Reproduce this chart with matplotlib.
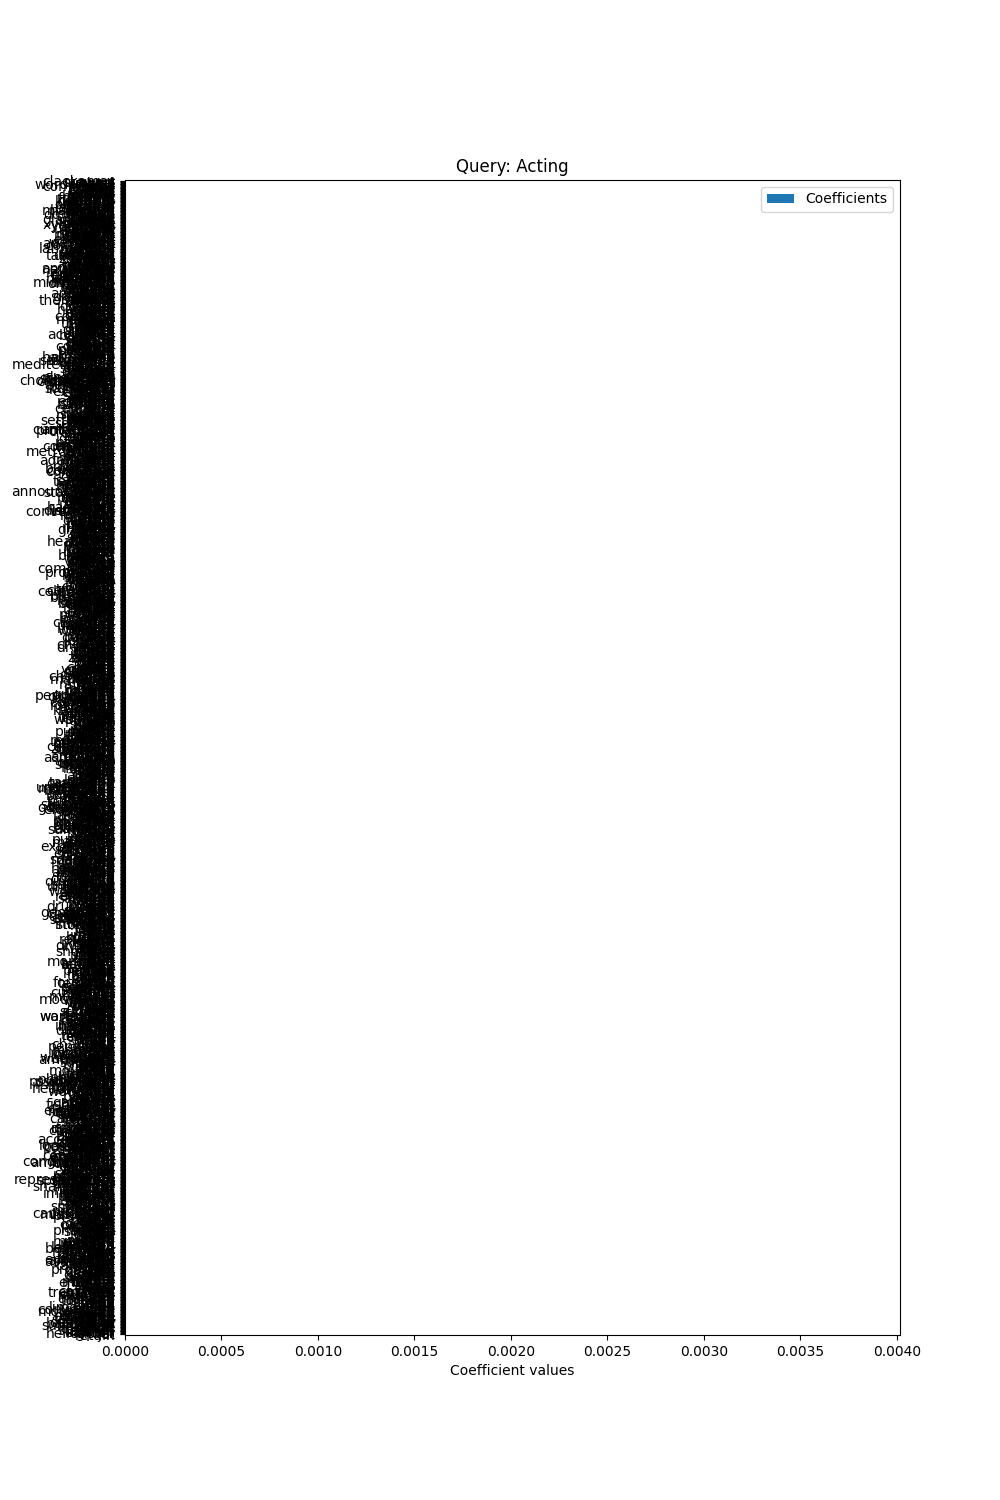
import numpy as np
import matplotlib
matplotlib.use("Agg")
import matplotlib.pyplot as plt

# feature words, listed from the top of the chart to the bottom
words = """
clackamas stewart wolves rental wordsworth fields communal curtis comet kiai brooks outline sunset keeper radial coats canal
wizard garnet hatchet bonnet dancer fountain gallery heritage journal kingdom laundry magnet nursery observer painter quarter railing
sporting powerful hart hardware misquoted hamlet boards lighten downtown chalk stride pastry castle merger marsh glamorous fennel
sandbox teapot uniform vintage warrior xylophone yearbook zipper anvil bicycle cabinet dentist elevator firefly goblet hydrant icicle
program harmony beacon powder lantern orchard vessel embassy draft ripple appeal westward apartment pillow cottage conductor verse
javelin kayak lampshade mailbox napkin octopus paddle quartz raincoat scooter tablecloth umbrella vacuum waffle yogurt zucchini acorn
ribbon ashore cluster hunter yeast vendor corridor archive tannery charcoal cobalt apprentice newsletter shelter inland cradle tavern
blender cupboard doorbell envelope flashlight garland headband inkwell jukebox keyboard ladle microphone necklace ornament padlock quilt radiator
diary harbor fabric anthem weights wrestle apparel ember jigsaw approach wagon willow greenery ledger cement candle quarry
scissors thermostat ukulele vase wallet apron broom crayon dustpan eraser funnel glove hammer iron jacket kite
granite walnut cousin riddle dolphin saddle compass orbit fossil meadow pigeon rubber velvet basin thunder lumber ferry
lamp mitten needle oven pencil quiver2 ruler sponge towel utensil violin whisk accordion bagpipe clarinet drum flute
coastal cellar nettle thistle insight bonfire puppet mosaic cabin steeple compost hedge parcel satchel paradox pageant shingle
guitar harp organ trumpet tuba banjo cello harmonica mandolin oboe piccolo saxophone trombone viola bassoon cymbal gong
mediterranean estuary lagoon gravel gremlin sparrow latch cinder lobster calcium vault lattice trellis courier cobble blanket
actress playwright screenplay filmmaker choreography composer conductor2 dramatist lyricist narrator performer player presenter singer soloist storyteller tenor
kettle excavate biscuit ecology hostel bishop cameo sherbet bugle poster aroma ladder pebble muffin tractor emerald mining
soprano baritone alto bass diva starlet celebrity icon legend idol star hero villain heroine sidekick mentor2 rival
expert invoice walrus trolley prism settlement tundra beaker billow southern hazard arsenal cargo compile lodge linen cumberland
antagonist protagonist character role part cameo2 lead extra stand stunt double dubbing subtitle caption credit trailer teaser
beacon2 falcon crater highland mansion commerce monsoon nutmeg adult tripod coffin metropolitan imprint axle barley sundial succeed
sequel prequel remake reboot spinoff franchise adaptation novel novella poem sonnet ballad epic saga chronicle memoir biography
pyramid lotus corrective compass2 ginger oyster cinema gospel oblong crimson mural basket aviator ingot sapphire reptile template
essay article column editorial headline feature report bulletin dispatch memo letter notice announcement statement speech address sermon
barrel pelican internal plumber consent hermit rosary copper domino nozzle feather scholar cobra native decree hammock shutter
lecture2 debate discussion interview conversation chat gossip rumor whisper murmur shout scream cry laugh giggle chuckle sigh
coral rustic helmet banner pepper casket piano ribbon2 tunnel sketch grumble cedar quiver lever stitch wedge slipper
groan moan yawn sneeze cough hiccup snore breath pulse heartbeat rhythm tempo melody tune chord note pitch
harvest canyon tiger plaster vapor beetle marrow lemon kitten blossom pirate scarlet ditch turbine valve mantle osprey
volume echo silence noise clamor racket din uproar tumult commotion chaos order system method process procedure routine
signal rocket almond hollow summit ferret bakery dragon cactus laurel ashen cider mentor pistol rafter cobweb clover
habit custom tradition ritual ceremony celebration party banquet feast picnic barbecue dinner lunch breakfast brunch supper snack
lantern2 spindle harness cannon bramble hornet dagger locket pulley gutter sprout thimble quill chisel anchor buoy wren
dessert pudding cake pie tart cookie brownie pastry2 bread roll bagel croissant muffin2 scone waffle2 pancake crepe
vortex juniper mallet tundra2 fable wigwam geyser hinge kiln lynx mead nectar oasis parsnip quarry2 relic sable
omelet salad soup stew curry broth chowder sauce gravy dressing relish pickle jam jelly honey syrup butter
tallow umber vial wharf yarn zephyr abbey bellow cairn dune easel flint gable heron islet jetty knoll ledge
cheese cream milk yogurt2 custard sorbet gelato sundae fudge caramel toffee candy chocolate truffle praline nougat marzipan
moat nook ochre plinth quay rampart sluice turret urn vane weir yoke atrium bastion cupola dormer eave
licorice gumdrop lollipop peppermint cinnamon clove nutmeg2 vanilla saffron paprika cumin coriander basil oregano thyme rosemary sage
finial gazebo hamlet2 inlay joist keystone lintel mullion newel oriel parapet quoin rotunda soffit transom vestry wainscot
parsley dill mint chive garlic onion shallot leek celery carrot turnip radish beet potato yam pumpkin squash
acting actor stage theatre drama scene script casting director studio rehearsal audience premiere comedy tragedy musical ballet
cucumber tomato eggplant zucchini2 broccoli cabbage lettuce spinach kale chard arugula cress endive fennel2 artichoke asparagus okra
opera chorus encore curtain costume makeup lighting spotlight podium critic review award festival gala ticket usher
apple pear peach plum cherry apricot grape raisin fig date olive lemon2 lime orange tangerine grapefruit melon
matinee season repertory ensemble understudy monologue dialogue prop backstage screen film cinema2 movie television broadcast radio
banana mango papaya pineapple coconut kiwi guava lychee passion berry strawberry raspberry blueberry cranberry gooseberry currant elderberry
network channel episode series sitcom pilot producer writer editor camera lens shutter2 frame reel projector sound
hazelnut chestnut pecan cashew pistachio peanut walnut2 almond2 sesame sunflower poppy flax hemp oat wheat rye rice
voice accent improv mime clown puppetry circus acrobat juggler magician illusion trick gesture posture expression emotion
corn millet sorghum quinoa lentil bean pea chickpea soybean tofu tempeh seitan noodle pasta spaghetti macaroni lasagna
career agent contract salary union guild talent audition callback headshot resume portfolio training school academy
ravioli gnocchi risotto paella sushi tempura ramen dumpling burrito taco nacho quesadilla tortilla pizza calzone sandwich burger
college university student teacher lesson course class workshop seminar lecture exam degree diploma thesis research
hotdog sausage bacon ham steak roast chop cutlet fillet brisket rib wing drumstick breast thigh liver kidney
science history geography biology chemistry physics algebra geometry calculus statistics economy finance market trade export
heart2 lung stomach intestine bone skull spine rib2 pelvis femur tibia knee ankle heel toe foot leg
import tariff budget deficit surplus revenue profit loss asset equity bond stock share dividend interest loan
hip waist belly chest shoulder arm elbow wrist hand finger thumb nail palm neck throat chin jaw
mortgage credit debit account balance ledger2 audit tax levy duty fee fine penalty reward bonus grant
cheek lip mouth tongue tooth gum nose nostril eye eyelid lash brow forehead temple2 ear lobe scalp
subsidy pension welfare charity donor sponsor patron client customer buyer seller dealer broker merchant trader
hair beard moustache whisker freckle mole wrinkle dimple scar wound bruise blister rash fever chill ache cramp
supplier factory plant mill foundry forge workshop2 warehouse depot dock pier port harbour marina canal2 river
sprain fracture infection virus bacteria germ fungus allergy asthma diabetes cancer tumor stroke seizure coma therapy remedy
stream creek brook pond lake ocean sea bay gulf strait channel2 cape peninsula island atoll reef shoal
medicine pill tablet capsule syrup2 ointment bandage splint cast crutch wheelchair stretcher ambulance hospital clinic ward surgeon
delta valley ridge plateau mesa butte cliff bluff crag peak mountain hill mound slope terrace prairie steppe
nurse doctor physician dentist2 pharmacist therapist psychologist psychiatrist counselor coach trainer tutor instructor professor dean principal headmaster
savanna jungle forest woodland grove thicket copse glade field pasture farm ranch estate manor villa palace
janitor gardener farmer fisherman hunter2 miner logger builder carpenter mason welder electrician mechanic engineer architect designer planner
temple shrine chapel church cathedral mosque pagoda tower spire dome arch column pillar beam rafter2 girder
surveyor inspector detective officer constable sheriff marshal judge jury lawyer attorney solicitor barrister clerk notary banker accountant
railway station platform signal2 carriage engine locomotive freight passenger commuter traveller tourist pilgrim nomad settler colonist
auditor actuary analyst consultant manager executive chairman president governor mayor senator congressman minister ambassador diplomat consul envoy
pioneer explorer voyager sailor captain admiral general colonel major sergeant private soldier veteran militia regiment battalion
delegate representative spokesman secretary treasurer trustee director2 founder owner partner investor shareholder creditor debtor tenant landlord neighbor
citizen resident immigrant refugee exile fugitive prisoner convict inmate hostage victim witness suspect culprit thief burglar robber
bandit pirate2 smuggler forger swindler spy traitor rebel rioter protester activist campaigner volunteer missionary preacher priest monk
nun abbot friar rabbi imam pastor vicar deacon cardinal pope prophet saint angel demon ghost spirit phantom
specter wraith ghoul goblin troll ogre giant dwarf elf fairy pixie sprite nymph mermaid unicorn griffin phoenix
serpent basilisk hydra kraken leviathan behemoth chimera sphinx centaur minotaur cyclops titan deity goddess oracle seer sorcerer
witch warlock wizard2 enchanter alchemist astrologer fortune tarot crystal amulet talisman charm spell curse hex omen prophecy
destiny fate luck chance odds gamble wager bet lottery raffle jackpot prize trophy medal ribbon3 badge emblem
crest shield sword spear lance axe bow arrow dart sling catapult trebuchet musket rifle shotgun revolver pistol2
bullet shell grenade bomb missile torpedo mine tank jeep truck van bus coach2 taxi limousine sedan coupe
convertible wagon2 motorcycle scooter2 moped tram subway monorail cable gondola ferry2 yacht sloop schooner galleon frigate2 destroyer
cruiser battleship carrier submarine canoe raft barge tugboat trawler steamer liner airship balloon glider helicopter jet retain
""".split()

# coefficient of every word, all read as zero in the chart
coefs = np.zeros(len(words))

fig, ax = plt.subplots(figsize=(10, 15), dpi=100)
pos = np.arange(len(words))[::-1]
ax.barh(pos, coefs, label="Coefficients")
ax.set_yticks(pos)
ax.set_yticklabels(words)
ax.set_ylim(-0.7, len(words) - 0.3)
ax.set_xlim(0, 0.004016)
ax.set_xlabel("Coefficient values")
ax.set_title("Query: Acting")
ax.legend(loc="upper right")
fig.savefig("out.png")
